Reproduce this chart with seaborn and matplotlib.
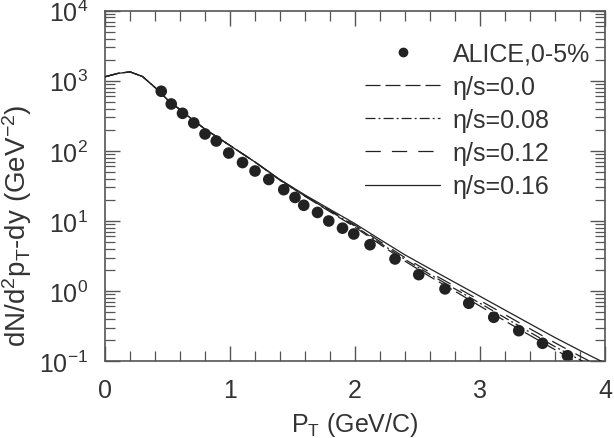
import matplotlib
matplotlib.use("Agg")
import numpy as np
import pandas as pd
import seaborn as sns
import matplotlib.pyplot as plt
from matplotlib.ticker import LogLocator, MultipleLocator, FixedLocator, NullFormatter
from matplotlib.lines import Line2D

# ---------------- data ----------------
pt_data = [0.45, 0.53, 0.62, 0.71, 0.80, 0.89, 0.99, 1.10, 1.20, 1.31, 1.43, 1.52, 1.59,
           1.70, 1.79, 1.90, 1.99, 2.12, 2.32, 2.51, 2.72, 2.91, 3.11, 3.31, 3.50, 3.70]
alice_0_5 = [708, 466, 343, 250, 174, 138, 93, 68, 51.5, 39, 27.9, 21.6, 16.7,
             13.2, 9.96, 7.87, 6.50, 4.57, 2.86, 1.71, 1.07, 0.667, 0.421, 0.271, 0.179, 0.119]

pt_model = [0, 0.1, 0.2, 0.3, 0.4, 0.5, 0.6, 0.7, 0.8, 1.0, 1.2, 1.4, 1.6, 1.8, 2.0,
            2.2, 2.4, 2.6, 2.8, 3.0, 3.2, 3.4, 3.6, 3.8, 4.0]
low_pt = [1140, 1270, 1340, 1150, 803, 537, 386, 279, 204, 119, 69.2]
eta_s_016 = low_pt + [38.9, 23.4, 14.6, 9.12, 5.43, 3.27, 2.07, 1.32, 0.839, 0.533,
                      0.339, 0.216, 0.141, 0.0933]
eta_s_012 = low_pt + [38.5, 22.9, 14.1, 8.71, 5.07, 2.99, 1.84, 1.16, 0.731, 0.459,
                      0.288, 0.182, 0.117, 0.0767]
eta_s_008 = low_pt + [38.2, 22.6, 13.8, 8.41, 4.84, 2.82, 1.72, 1.07, 0.667, 0.414,
                      0.257, 0.160, 0.104, 0.0676]
eta_s_000 = low_pt + [38.0, 22.4, 13.5, 8.13, 4.62, 2.66, 1.60, 0.989, 0.608, 0.373,
                      0.232, 0.145, 0.0923, 0.0596]

labels = ["ALICE,0-5%", "η/s=0.0", "η/s=0.08", "η/s=0.12", "η/s=0.16"]
x_ticks = [0, 1, 2, 3, 4]

# ---------------- style ----------------
sns.set_style("ticks")
plt.rcParams["font.family"] = ["Liberation Sans", "DejaVu Sans"]
plt.rcParams["mathtext.fontset"] = "custom"
plt.rcParams["mathtext.rm"] = "Liberation Sans"
plt.rcParams["mathtext.it"] = "Liberation Sans"
plt.rcParams["mathtext.default"] = "regular"
plt.rcParams["lines.scale_dashes"] = False

ink = "#222222"
axc = "#555555"

fig = plt.figure(figsize=(6.14, 4.39), dpi=100)
ax = fig.add_axes([105 / 614, 1 - 362 / 439, 500 / 614, 350.3 / 439])

sns.scatterplot(x=pt_data, y=alice_0_5, ax=ax, color=ink, s=70, edgecolor="none",
                zorder=2, legend=False)

styles = [
    (eta_s_000, (0, (10.8, 3.6))),
    (eta_s_008, (0, (7.2, 2.2, 1.4, 2.2))),
    (eta_s_012, (0, (11, 8))),
    (eta_s_016, "-"),
]
for vals, ls in styles:
    sns.lineplot(x=pt_model, y=vals, ax=ax, color=ink, lw=0.9, linestyle=ls,
                 sort=False, estimator=None, zorder=3, legend=False)

ax.set_yscale("log")
ax.set_xlim(0, 4)
ax.set_ylim(0.1, 1e4)
ax.xaxis.set_major_locator(FixedLocator(x_ticks))
ax.xaxis.set_minor_locator(MultipleLocator(0.2))
ax.yaxis.set_major_locator(LogLocator(base=10, numticks=10))
ax.yaxis.set_minor_locator(LogLocator(base=10, subs=np.arange(2, 10), numticks=10))
ax.yaxis.set_minor_formatter(NullFormatter())

for s in ax.spines.values():
    s.set_color(axc)
    s.set_linewidth(1.2)

ax.tick_params(which="both", direction="in", top=True, right=True, color=axc,
               labelsize=18, labelcolor="#333333")
ax.tick_params(which="major", length=11, width=1.0, pad=12)
ax.tick_params(which="minor", length=7, width=0.9)

ax.set_xlabel(r"$P_T$ (GeV/C)", fontsize=18, color="#333333")
ax.set_ylabel(r"dN/d$^2$p$_T$-dy (GeV$^{-2}$)", fontsize=20, color="#333333")
ax.xaxis.set_label_coords(0.5, -0.14)
ax.yaxis.set_label_coords(-0.142, 0.39)

handles = [
    Line2D([], [], color=ink, marker="o", markersize=6, linestyle="none"),
    Line2D([], [], color=ink, lw=0.9, linestyle=(0, (10.8, 3.6))),
    Line2D([], [], color=ink, lw=0.9, linestyle=(0, (7.2, 2.2, 1.4, 2.2))),
    Line2D([], [], color=ink, lw=0.9, linestyle=(0, (11, 8))),
    Line2D([], [], color=ink, lw=0.9, linestyle="-"),
]
leg = ax.legend(handles, labels, loc="upper right", frameon=False, fontsize=18,
                handlelength=3.0, handletextpad=0.5, labelspacing=0.37,
                bbox_to_anchor=(1.0, 0.955), borderaxespad=0.2)
for t in leg.get_texts():
    t.set_color("#333333")

fig.savefig("out.png", dpi=100)
